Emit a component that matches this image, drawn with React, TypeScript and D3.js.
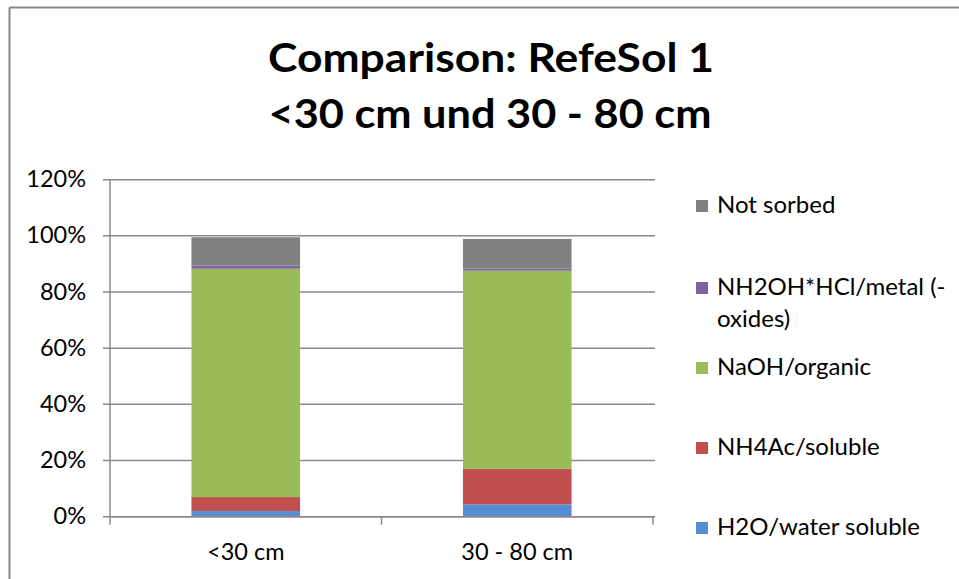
import React from "react";
import * as d3 from "d3";

// Depth classes on the x axis
const categories = ["<30 cm", "30 - 80 cm"];

// Fractions (percent) per extraction step, bottom of the stack first
const seriesNames = [
  "H2O/water soluble",
  "NH4Ac/soluble",
  "NaOH/organic",
  "NH2OH*HCl/metal (-oxides)",
  "Not sorbed",
];
const h2oValues = [2.0, 4.4];
const nh4acValues = [5.0, 12.7];
const naohValues = [81.3, 70.5];
const nh2ohValues = [1.1, 0.7];
const notSorbedValues = [10.1, 10.6];

const seriesColors = ["#558ED5", "#C0504D", "#9BBB59", "#8064A2", "#808080"];

const yTicks = [0, 20, 40, 60, 80, 100, 120];

// Legend order top to bottom, with line breaks as wrapped in the legend box
const legendOrder = [4, 3, 2, 1, 0];
const legendLines: string[][] = [
  ["Not sorbed"],
  ["NH2OH*HCl/metal (-", "oxides)"],
  ["NaOH/organic"],
  ["NH4Ac/soluble"],
  ["H2O/water soluble"],
];
const legendBaselines = [213, 295, 375, 455, 535];

const titleLines = ["Comparison: RefeSol 1", "<30 cm und 30 - 80 cm"];

const W = 959;
const H = 579;
const FONT = "Lato, 'Open Sans', sans-serif";
const GRID = "#8a8a8a";
const LABEL_SIZE = 23.5;

export default function App() {
  const plot = { left: 110, right: 653, top: 179.7, bottom: 516.7 };

  const x = d3
    .scaleBand<string>()
    .domain(categories)
    .range([plot.left, plot.right])
    .paddingInner(0.6)
    .paddingOuter(0.3);

  const y = d3.scaleLinear().domain([0, 120]).range([plot.bottom, plot.top]);

  const rows = categories.map((c, i) => ({
    cat: c,
    s0: h2oValues[i],
    s1: nh4acValues[i],
    s2: naohValues[i],
    s3: nh2ohValues[i],
    s4: notSorbedValues[i],
  }));
  const stack = d3.stack<any>().keys(["s0", "s1", "s2", "s3", "s4"]);
  const layers = stack(rows);

  const step = (plot.right - plot.left) / categories.length;
  const catTicks = d3.range(categories.length + 1).map((k) => plot.left + k * step);

  return (
    <svg
      width={W}
      height={H}
      style={{ position: "absolute", left: 0, top: 0, background: "#fff" }}
      fontFamily={FONT}
    >
      <rect x={0} y={0} width={W} height={H} fill="#fff" />
      {/* chart frame */}
      <line x1={9.5} y1={7.5} x2={W} y2={7.5} stroke="#878787" strokeWidth={2} />
      <line x1={9.5} y1={7.5} x2={9.5} y2={H} stroke="#878787" strokeWidth={2} />

      {/* title */}
      <text
        x={491}
        y={72}
        textAnchor="middle"
        fontSize={41}
        fontWeight="bold"
        fill="#000"
        textLength={446}
        lengthAdjust="spacingAndGlyphs"
      >
        {titleLines[0]}
      </text>
      <text
        x={490}
        y={128}
        textAnchor="middle"
        fontSize={41}
        fontWeight="bold"
        fill="#000"
        textLength={443}
        lengthAdjust="spacingAndGlyphs"
      >
        {titleLines[1]}
      </text>

      {/* horizontal gridlines and y ticks */}
      {yTicks.map((t) => (
        <g key={t}>
          <line
            x1={plot.left - 7}
            x2={plot.right + 2}
            y1={y(t)}
            y2={y(t)}
            stroke={GRID}
            strokeWidth={1.5}
          />
          <text x={86} y={y(t) + 7.5} textAnchor="end" fontSize={LABEL_SIZE} fill="#000">
            {t}%
          </text>
        </g>
      ))}

      {/* stacked bars */}
      {layers.map((layer, li) => (
        <g key={li} fill={seriesColors[li]}>
          {layer.map((d, i) => (
            <rect
              key={i}
              x={x(categories[i])}
              width={x.bandwidth()}
              y={y(d[1])}
              height={y(d[0]) - y(d[1])}
            />
          ))}
        </g>
      ))}

      {/* axes */}
      <line x1={plot.left} x2={plot.left} y1={plot.top} y2={plot.bottom} stroke={GRID} strokeWidth={1.5} />
      <line x1={plot.left} x2={plot.right + 2} y1={plot.bottom} y2={plot.bottom} stroke={GRID} strokeWidth={1.5} />
      {catTicks.map((tx, k) => (
        <line key={k} x1={tx} x2={tx} y1={plot.bottom} y2={plot.bottom + 8} stroke={GRID} strokeWidth={1.5} />
      ))}
      {categories.map((c) => (
        <text
          key={c}
          x={(x(c) as number) + x.bandwidth() / 2}
          y={560}
          textAnchor="middle"
          fontSize={LABEL_SIZE}
          fill="#000"
        >
          {c}
        </text>
      ))}

      {/* legend */}
      {legendOrder.map((si, k) => (
        <g key={si}>
          <rect
            x={696}
            y={legendBaselines[k] - 13}
            width={12}
            height={12}
            fill={seriesColors[si]}
          />
          {legendLines[k].map((ln, j) => (
            <text key={j} x={717} y={legendBaselines[k] + j * 31.7} fontSize={24} fill="#000">
              {ln}
            </text>
          ))}
        </g>
      ))}
    </svg>
  );
}
